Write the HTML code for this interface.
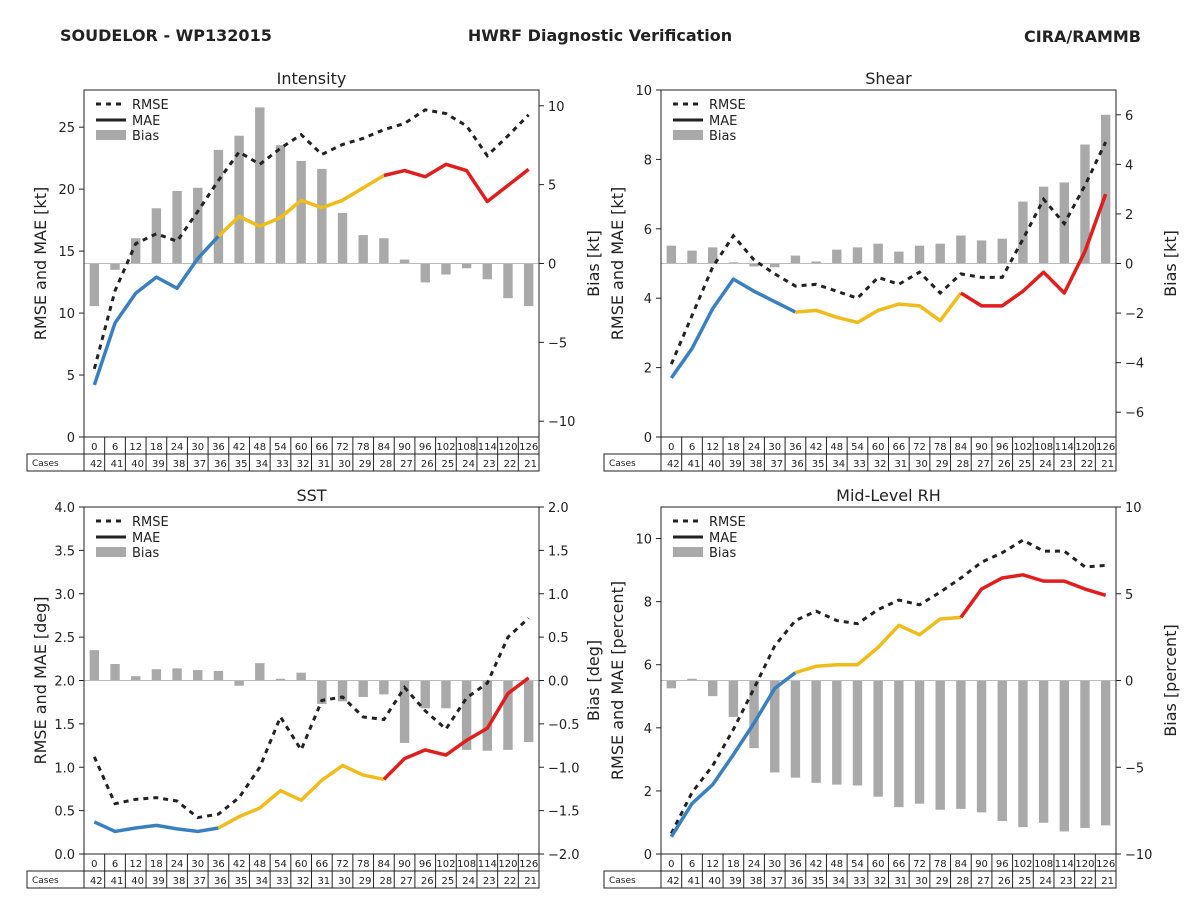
<!DOCTYPE html>
<html><head><meta charset="utf-8"><style>
body{margin:0;background:#fff;}
svg{display:block;font-family:"DejaVu Sans","Liberation Sans",sans-serif;}
</style></head><body>
<svg id="c" width="1200" height="900" viewBox="0 0 1200 900">
<text x="60" y="41" font-size="16" font-weight="bold" fill="#222">SOUDELOR - WP132015</text>
<text x="600" y="41" font-size="16" font-weight="bold" fill="#222" text-anchor="middle">HWRF Diagnostic Verification</text>
<text x="1141" y="42" font-size="16" font-weight="bold" fill="#222" text-anchor="end">CIRA/RAMMB</text>
</svg>
<script>
const hours=[0,6,12,18,24,30,36,42,48,54,60,66,72,78,84,90,96,102,108,114,120,126];
const cases=[42,41,40,39,38,37,36,35,34,33,32,31,30,29,28,27,26,25,24,23,22,21];
const intRmse=[5.5,11.8,15.6,16.4,15.8,18.2,20.7,23.0,22.0,23.3,24.4,22.8,23.6,24.1,24.8,25.3,26.4,26.1,25.1,22.7,24.3,26.0];
const intMae=[4.2,9.2,11.6,12.9,12.0,14.4,16.2,17.8,17.0,17.7,19.1,18.5,19.1,20.1,21.1,21.5,21.0,22.0,21.5,19.0,20.3,21.6];
const intBias=[-2.7,-0.4,1.6,3.5,4.6,4.8,7.2,8.1,9.9,7.5,6.5,6.0,3.2,1.8,1.6,0.25,-1.2,-0.7,-0.3,-1.0,-2.2,-2.7];
const shrRmse=[2.1,3.5,4.9,5.8,5.1,4.7,4.35,4.4,4.2,4.0,4.6,4.4,4.75,4.15,4.7,4.6,4.6,5.7,6.85,6.15,7.25,8.5];
const shrMae=[1.7,2.55,3.7,4.55,4.2,3.9,3.6,3.65,3.45,3.3,3.65,3.83,3.78,3.35,4.15,3.78,3.78,4.2,4.75,4.15,5.35,7.0];
const shrBias=[0.72,0.52,0.65,0.05,-0.12,-0.15,0.32,0.08,0.56,0.65,0.8,0.48,0.72,0.8,1.13,0.93,1.0,2.5,3.1,3.27,4.8,6.0];
const sstRmse=[1.12,0.58,0.63,0.65,0.61,0.42,0.46,0.65,1.0,1.58,1.2,1.77,1.81,1.58,1.55,1.92,1.65,1.44,1.8,1.97,2.5,2.72];
const sstMae=[0.37,0.26,0.3,0.33,0.29,0.26,0.3,0.43,0.53,0.73,0.62,0.85,1.02,0.91,0.86,1.1,1.2,1.14,1.31,1.45,1.85,2.03];
const sstBias=[0.35,0.19,0.05,0.13,0.14,0.12,0.11,-0.06,0.2,0.02,0.09,-0.27,-0.24,-0.19,-0.16,-0.72,-0.32,-0.32,-0.8,-0.81,-0.8,-0.71];
const rhRmse=[0.65,1.95,2.8,3.95,5.25,6.6,7.4,7.7,7.4,7.3,7.75,8.05,7.9,8.3,8.75,9.25,9.55,9.95,9.6,9.6,9.1,9.15];
const rhMae=[0.55,1.6,2.2,3.15,4.15,5.25,5.75,5.95,6.0,6.0,6.55,7.25,6.95,7.45,7.5,8.4,8.75,8.85,8.65,8.65,8.4,8.2];
const rhBias=[-0.45,0.1,-0.9,-2.1,-3.9,-5.3,-5.6,-5.9,-6.0,-6.05,-6.7,-7.3,-7.1,-7.45,-7.4,-7.6,-8.1,-8.45,-8.2,-8.7,-8.5,-8.35];

const NS="http://www.w3.org/2000/svg";
const svg=document.getElementById('c');
function mk(tag,attrs,parent,txt){const e=document.createElementNS(NS,tag);for(const k in attrs)e.setAttribute(k,attrs[k]);if(txt!==undefined)e.textContent=txt;(parent||svg).appendChild(e);return e;}

function panel(o){
  const g=mk('g',{});
  
  
  const L=o.x,R=o.x+455,T=o.y,B=o.y+347,W=R-L,H=B-T;
  const cw=W/hours.length;
  const xs=i=>L+cw*(i+0.5);
  const yl=v=>B-(v-o.lmin)/(o.lmax-o.lmin)*H;
  const yr=v=>B-(v-o.rmin)/(o.rmax-o.rmin)*H;
  // bars
  const y0=yr(0);
  hours.forEach((h,i)=>{const v=o.bias[i];const yv=yr(v);
    const b=mk('rect',{x:xs(i)-4.7,y:Math.min(yv,y0),width:9.4,height:Math.abs(yv-y0),fill:'#a9a9a9'},g);
    
    });
  mk('line',{x1:L,x2:R,y1:y0,y2:y0,stroke:'#bbb','stroke-width':1},g);
  // RMSE dashed
  const rp=o.rmse.map((v,i)=>xs(i)+','+yl(v)).join(' ');
  const rl=mk('polyline',{points:rp,fill:'none',stroke:'#222','stroke-width':3,'stroke-dasharray':'5,5'},g);
  
  
  // MAE segments
  const segs=[[0,6,'#3a80c0'],[6,14,'#f0bc1c'],[14,21,'#e01e1e']];
  segs.forEach(s=>{const pts=[];for(let i=s[0];i<=s[1];i++)pts.push(xs(i)+','+yl(o.mae[i]));
    const m=mk('polyline',{points:pts.join(' '),fill:'none',stroke:s[2],'stroke-width':3.5,'stroke-linejoin':'round'},g);
    
    });
  // frame
  mk('rect',{x:L,y:T,width:W,height:H,fill:'none',stroke:'#222','stroke-width':1},g);
  // left ticks
  o.lticks.forEach(t=>{const y=yl(t);mk('line',{x1:L-5,x2:L,y1:y,y2:y,stroke:'#222'},g);
    const tx=mk('text',{x:L-9,y:y+5,'font-size':13,'text-anchor':'end',fill:'#222'},g,o.lfmt(t));
    
    });
  o.rticks.forEach(t=>{const y=yr(t);mk('line',{x1:R,x2:R+5,y1:y,y2:y,stroke:'#222'},g);
    const tx=mk('text',{x:R+9,y:y+5,'font-size':13,fill:'#222'},g,(t<0?'\u2212'+o.rfmt(-t):o.rfmt(t)));
    
    });
  const tt=mk('text',{x:(L+R)/2,y:T-6,'font-size':16,'text-anchor':'middle',fill:'#222'},g,o.title);
  
  
  const yt=mk('text',{x:0,y:0,'font-size':16,'text-anchor':'middle',fill:'#222',transform:`translate(${L-38},${(T+B)/2}) rotate(-90)`},g,o.ylab);
  
  
  const rt=mk('text',{x:0,y:0,'font-size':16,'text-anchor':'middle',fill:'#222',transform:`translate(${R+60},${(T+B)/2}) rotate(-90)`},g,o.rlab);
  
  
  // legend
  const lg=mk('g',{},g);
  
  
  const lx=L+12;
  mk('line',{x1:lx,x2:lx+30,y1:T+14,y2:T+14,stroke:'#222','stroke-width':3,'stroke-dasharray':'5,5'},lg);
  mk('text',{x:lx+36,y:T+19,'font-size':13,fill:'#222'},lg,'RMSE');
  mk('line',{x1:lx,x2:lx+30,y1:T+30,y2:T+30,stroke:'#222','stroke-width':3},lg);
  mk('text',{x:lx+36,y:T+35,'font-size':13,fill:'#222'},lg,'MAE');
  mk('rect',{x:lx,y:T+40,width:30,height:10,fill:'#a9a9a9'},lg);
  mk('text',{x:lx+36,y:T+50,'font-size':13,fill:'#222'},lg,'Bias');
  // table
  const tb=mk('g',{},g);
  
  
  mk('rect',{x:L,y:B,width:W,height:17,fill:'#fff',stroke:'#222'},tb);
  mk('rect',{x:L-57,y:B+17,width:W+57,height:17,fill:'#fff',stroke:'#222'},tb);
  mk('text',{x:L-52,y:B+29,'font-size':9,fill:'#222'},tb,'Cases');
  hours.forEach((h,i)=>{const cx=L+cw*i;
    mk('line',{x1:cx,x2:cx,y1:B,y2:B+34,stroke:'#222'},tb);
    mk('text',{x:cx+cw/2,y:B+13,'font-size':10,'text-anchor':'middle',fill:'#222'},tb,h);
    mk('text',{x:cx+cw-2,y:B+30,'font-size':10,'text-anchor':'end',fill:'#222'},tb,cases[i]);});
}
const f0=v=>String(v), f1=v=>v.toFixed(1);
panel({key:'intensity',x:84,y:90,title:'Intensity',ylab:'RMSE and MAE [kt]',rlab:'Bias [kt]',lmin:0,lmax:28,rmin:-11,rmax:11,lticks:[0,5,10,15,20,25],rticks:[-10,-5,0,5,10],lfmt:f0,rfmt:f0,rmse:intRmse,mae:intMae,bias:intBias});
panel({key:'shear',x:661,y:90,title:'Shear',ylab:'RMSE and MAE [kt]',rlab:'Bias [kt]',lmin:0,lmax:10,rmin:-7,rmax:7,lticks:[0,2,4,6,8,10],rticks:[-6,-4,-2,0,2,4,6],lfmt:f0,rfmt:f0,rmse:shrRmse,mae:shrMae,bias:shrBias});
panel({key:'sst',x:84,y:507,title:'SST',ylab:'RMSE and MAE [deg]',rlab:'Bias [deg]',lmin:0,lmax:4,rmin:-2,rmax:2,lticks:[0,0.5,1,1.5,2,2.5,3,3.5,4],rticks:[-2,-1.5,-1,-0.5,0,0.5,1,1.5,2],lfmt:f1,rfmt:f1,rmse:sstRmse,mae:sstMae,bias:sstBias});
panel({key:'midlevel-rh',x:661,y:507,title:'Mid-Level RH',ylab:'RMSE and MAE [percent]',rlab:'Bias [percent]',lmin:0,lmax:11,rmin:-10,rmax:10,lticks:[0,2,4,6,8,10],rticks:[-10,-5,0,5,10],lfmt:f0,rfmt:f0,rmse:rhRmse,mae:rhMae,bias:rhBias});
</script>
</body></html>
